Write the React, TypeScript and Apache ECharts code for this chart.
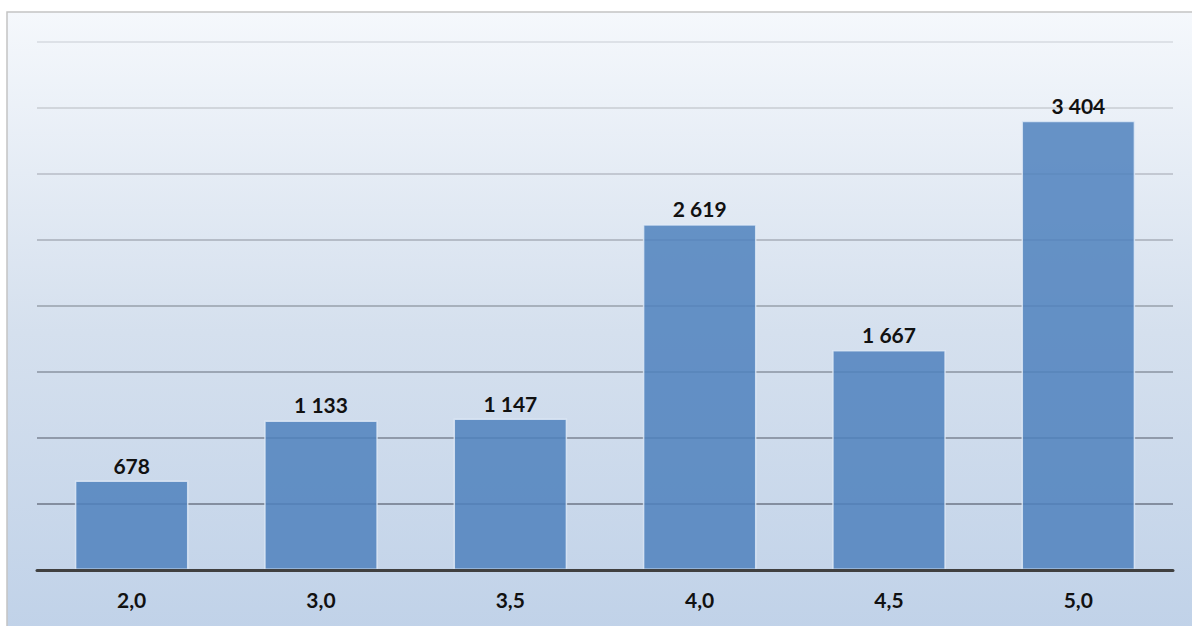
import React, { useEffect, useRef } from "react";
import * as echarts from "echarts";

const categories = ["2,0", "3,0", "3,5", "4,0", "4,5", "5,0"];
const values = [678, 1133, 1147, 2619, 1667, 3404];
const yMin = 0;
const yMax = 4000;
const yInterval = 500;
// gridline colours from bottom (value 0) to top (value 4000)
const gridColors = [
  "#404040",
  "#6c7686",
  "#7b8594",
  "#8a93a0",
  "#98a0ab",
  "#a7aeb8",
  "#b7bdc6",
  "#c8ccd3",
  "#d6dae0",
];

const fmt = (v: number) => String(v).replace(/\B(?=(\d{3})+(?!\d))/g, " ");

export default function App() {
  const ref = useRef<HTMLDivElement>(null);
  useEffect(() => {
    if (!ref.current) return;
    const chart = echarts.init(ref.current, undefined, { renderer: "svg" });
    chart.setOption({
      animation: false,
      textStyle: { fontFamily: "Lato, 'Noto Sans', sans-serif" },
      graphic: [
        {
          type: "rect",
          z: -100,
          silent: true,
          shape: { x: 7, y: 12, width: 1200, height: 640 },
          style: {
            fill: new echarts.graphic.LinearGradient(0, 0, 0, 1, [
              { offset: 0, color: "#f5f8fc" },
              { offset: 0.5, color: "#d5e0ee" },
              { offset: 1, color: "#bfd1e8" },
            ]),
            stroke: "#c4c4c4",
            lineWidth: 1.5,
          },
        },
      ],
      grid: { left: 37, right: 19, top: 42, bottom: 56, containLabel: false },
      xAxis: {
        type: "category",
        data: categories,
        axisLine: { show: true, lineStyle: { color: "#404040", width: 3 } },
        axisTick: { show: false },
        axisLabel: {
          color: "#111",
          fontWeight: "bold",
          fontSize: 21,
          margin: 19,
          fontFamily: "Lato, 'Noto Sans', sans-serif",
        },
        z: 5,
      },
      yAxis: {
        type: "value",
        min: yMin,
        max: yMax,
        interval: yInterval,
        axisLabel: { show: false },
        axisLine: { show: false },
        axisTick: { show: false },
        splitLine: { show: true, lineStyle: { color: gridColors, width: 1.5 } },
      },
      series: [
        {
          type: "bar",
          data: values,
          barCategoryGap: "40%",
          itemStyle: {
            color: "rgba(79,129,189,0.85)",
            borderColor: "rgba(225,235,248,0.8)",
            borderWidth: 1.5,
          },
          label: {
            show: true,
            position: "top",
            distance: 5,
            color: "#111",
            fontWeight: "bold",
            fontSize: 21,
            fontFamily: "Lato, 'Noto Sans', sans-serif",
            formatter: (p: any) => fmt(p.value),
          },
        },
      ],
    });
    return () => chart.dispose();
  }, []);
  return (
    <div
      ref={ref}
      style={{ position: "absolute", left: 0, top: 0, width: 1192, height: 626 }}
    />
  );
}
